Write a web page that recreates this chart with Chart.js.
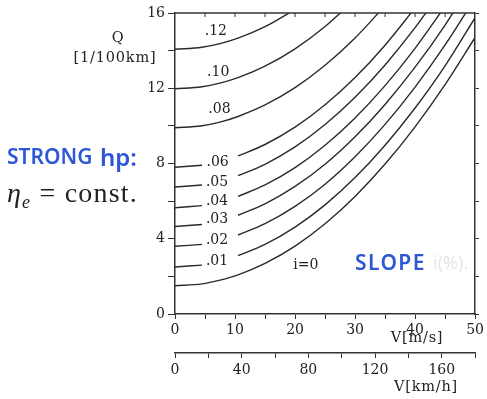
<!DOCTYPE html>
<html>
<head>
<meta charset="utf-8">
<script src="https://cdn.jsdelivr.net/npm/chart.js@4.4.1/dist/chart.umd.min.js"></script>
<style>
  html, body { margin: 0; padding: 0; background: #fff; }
  #wrap { position: relative; width: 487px; height: 399px; overflow: hidden; }
  #fuelChart { position: absolute; left: 0; top: 0; }
  .t { position: absolute; white-space: nowrap; line-height: 1; color: #222; }
  .c { transform: translate(-50%, -50%); }
  .axis { font-family: "DejaVu Serif", serif; font-size: 14.5px; letter-spacing: 0.8px; }
  .blue { font-family: "Noto Sans", sans-serif; font-weight: 600; color: #2d57d6; }
  .eta { font-family: "Liberation Serif", serif; font-size: 28px; letter-spacing: 1.2px; color: #222; }
  .eta sub { font-size: 18px; font-style: italic; vertical-align: -6px; line-height: 0; }
</style>
</head>
<body>
<div id="wrap">
  <canvas id="fuelChart" width="487" height="399" style="width:487px;height:399px"></canvas>

  <div class="t c axis" style="left:118px; top:37px;">Q</div>
  <div class="t c axis" style="left:115px; top:57px;">[1/100km]</div>
  <div class="t c axis" style="left:417px; top:337px;">V[m/s]</div>
  <div class="t c axis" style="left:426px; top:386px;">V[km/h]</div>

  <div class="t blue" style="left:7px; top:146px; font-size:21px;">STRONG</div>
  <div class="t blue" style="left:100px; top:145px; font-size:24px;">hp:</div>
  <div class="t eta" style="left:7px; top:179px;"><i>η</i><sub>e</sub> = const.</div>

  <div class="t blue" style="left:355px; top:252px; font-size:21px; letter-spacing:1.4px;">SLOPE</div>
  <div class="t" style="left:433px; top:253px; font-family:'Noto Sans',sans-serif; font-size:18px; color:#e6e6e6;">i(%).</div>
</div>

<script>
const speedMs = [0, 4.5, 7.5, 10.5, 15, 20, 25, 30, 35, 40, 45, 50];

// --- fuel consumption Q [l/100km], one array per road slope i ---
// null = gap (where the slope label sits) or beyond the top of the plot
const qSlope000 = [1.5, 1.6, 1.8, 2.08, 2.69, 3.61, 4.8, 6.25, 7.97, 9.95, 12.19, 14.7];
const qSlope001 = [2.5, 2.6, null, 3.1, 3.7, 4.62, 5.8, 7.25, 8.97, 10.95, 13.19, 15.75];
const qSlope002 = [3.6, 3.7, null, 4.2, 4.8, 5.72, 6.9, 8.36, 10.08, 12.06, 14.3, 16.8];
const qSlope003 = [4.65, 4.76, null, 5.25, 5.85, 6.78, 7.96, 9.42, 11.14, 13.12, 15.36, 17.9];
const qSlope004 = [5.65, 5.76, null, 6.25, 6.86, 7.78, 8.97, 10.42, 12.14, 14.12, 16.36, null];
const qSlope005 = [6.75, 6.86, null, 7.35, 7.96, 8.88, 10.07, 11.52, 13.24, 15.22, 17.46, null];
const qSlope006 = [7.8, 7.91, null, 8.4, 9.01, 9.93, 11.12, 12.57, 14.29, 16.27, null, null];
const qSlope008 = [9.9, 10.01, 10.2, 10.5, 11.11, 12.03, 13.22, 14.67, 16.39, null, null, null];
const qSlope010 = [11.97, 12.08, 12.27, 12.56, 13.17, 14.09, 15.28, 16.73, null, null, null, null];
const qSlope012 = [14.07, 14.18, 14.37, 14.66, 15.27, 16.19, null, null, null, null, null, null];

const allSeries = [qSlope000, qSlope001, qSlope002, qSlope003, qSlope004,
                   qSlope005, qSlope006, qSlope008, qSlope010, qSlope012];

// --- curve labels and where they sit (V, Q) ---
const curveLabels = ['i=0', '.01', '.02', '.03', '.04', '.05', '.06', '.08', '.10', '.12'];
const labelSpeed  = [21.8, 7.0, 7.0, 7.0, 7.0, 7.0, 7.1, 7.4, 7.2, 6.8];
const labelQ      = [2.6, 2.8, 3.94, 5.03, 5.98, 6.98, 8.08, 10.9, 12.85, 15.0];

// --- tick label steps ---
const msLabelStep = 10;   // m/s axis
const kmhLabelStep = 40;  // km/h axis
const qLabelStep = 4;     // Q axis

const AXIS_COLOR = '#333';
const TEXT_COLOR = '#222';
const CURVE_COLOR = '#2a2a2a';
const TICK_FONT = { family: 'DejaVu Serif', size: 14 };

const datasets = allSeries.map((vals, k) => ({
    label: curveLabels[k],
    data: speedMs.map((v, j) => ({ x: v, y: vals[j] })),
    borderColor: CURVE_COLOR,
    borderWidth: 1.4,
    pointRadius: 0,
    cubicInterpolationMode: 'monotone',
    spanGaps: false,
}));

// top frame line with small inward ticks + the slope labels
const frameAndLabels = {
    id: 'frameAndLabels',
    afterDatasetsDraw(chart) {
        const { ctx, chartArea, scales } = chart;
        const x = scales.x, y = scales.y;
        ctx.save();
        ctx.strokeStyle = AXIS_COLOR;
        ctx.lineWidth = 1.5;
        ctx.beginPath();
        ctx.moveTo(chartArea.left, chartArea.top);
        ctx.lineTo(chartArea.right, chartArea.top);
        ctx.stroke();
        ctx.lineWidth = 1;
        x.ticks.forEach(t => {
            if (t.value <= 0 || t.value >= 50) return;
            const px = x.getPixelForValue(t.value);
            ctx.beginPath();
            ctx.moveTo(px, chartArea.top);
            ctx.lineTo(px, chartArea.top + 4);
            ctx.stroke();
        });

        ctx.font = TICK_FONT.size + 'px "' + TICK_FONT.family + '"';
        ctx.fillStyle = TEXT_COLOR;
        ctx.textAlign = 'center';
        ctx.textBaseline = 'middle';
        curveLabels.forEach((txt, k) => {
            ctx.fillText(txt, x.getPixelForValue(labelSpeed[k]), y.getPixelForValue(labelQ[k]));
        });
        ctx.restore();
    }
};

new Chart(document.getElementById('fuelChart'), {
    type: 'line',
    data: { datasets },
    plugins: [frameAndLabels],
    options: {
        responsive: false,
        animation: false,
        layout: { padding: { top: 13, left: 0, right: 0, bottom: 0 } },
        plugins: { legend: { display: false }, tooltip: { enabled: false } },
        scales: {
            x: {
                type: 'linear', position: 'bottom', min: 0, max: 50,
                afterFit: s => { s.height = 39; },
                ticks: {
                    stepSize: 5, autoSkip: false, maxRotation: 0, padding: 3,
                    color: TEXT_COLOR, font: TICK_FONT,
                    callback: v => (v % msLabelStep === 0 ? v : '')
                },
                grid: { drawOnChartArea: false, tickLength: 5, color: AXIS_COLOR },
                border: { color: AXIS_COLOR, width: 1.5 }
            },
            x2: {
                type: 'linear', position: 'bottom', min: 0, max: 180,
                afterFit: s => { s.height = 46; },
                ticks: {
                    stepSize: 20, autoSkip: false, maxRotation: 0, padding: 4,
                    color: TEXT_COLOR, font: TICK_FONT,
                    callback: v => (v % kmhLabelStep === 0 && v < 180 ? v : '')
                },
                grid: { drawOnChartArea: false, tickLength: 5, color: AXIS_COLOR },
                border: { color: AXIS_COLOR, width: 1.5 }
            },
            y: {
                type: 'linear', position: 'left', min: 0, max: 16,
                afterFit: s => { s.width = 175; },
                ticks: {
                    stepSize: 2, autoSkip: false, padding: 3,
                    color: TEXT_COLOR, font: TICK_FONT,
                    callback: v => (v % qLabelStep === 0 ? v : '')
                },
                grid: { drawOnChartArea: false, tickLength: 7, color: AXIS_COLOR },
                border: { color: AXIS_COLOR, width: 1.5 }
            },
            y2: {
                type: 'linear', position: 'right', min: 0, max: 16,
                afterFit: s => { s.width = 9; },
                ticks: { stepSize: 2, display: false },
                grid: { drawOnChartArea: false, tickLength: 4, color: AXIS_COLOR },
                border: { color: AXIS_COLOR, width: 1.5 }
            }
        }
    }
});
</script>
</body>
</html>
